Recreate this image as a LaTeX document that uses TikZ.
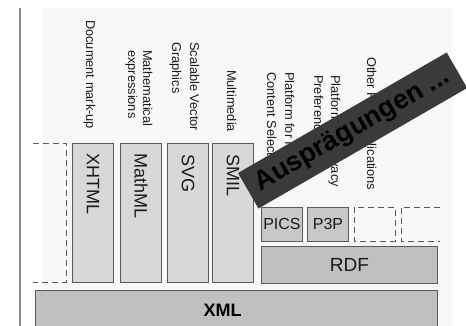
\documentclass[tikz,border=0pt]{standalone}
\usepackage{fontspec}
\setmainfont{Liberation Sans}
\definecolor{boxline}{HTML}{5A5A5A}
\definecolor{vfill}{HTML}{D8D8D8}
\definecolor{sfill}{HTML}{C8C8C8}
\definecolor{bfill}{HTML}{C0C0C0}
\definecolor{panel}{HTML}{F8F8F8}
\definecolor{lbl}{HTML}{1A1A1A}
\definecolor{banfill}{HTML}{3A3A3A}
\begin{document}
\begin{tikzpicture}[x=1pt,y=-1pt,
  vbox/.style={draw=boxline, fill=vfill, line width=0.9pt, anchor=north west, inner sep=0pt},
  sbox/.style={draw=boxline, fill=sfill, line width=0.9pt, anchor=north west, inner sep=0pt,
    font=\fontsize{16}{18}\selectfont, text=lbl},
  bbox/.style={draw=boxline, fill=bfill, line width=0.9pt, anchor=north west, inner sep=0pt},
  dbox/.style={draw=boxline, dashed, dash pattern=on 6pt off 4pt, line width=0.9pt},
  vtext/.style={rotate=-90, anchor=west, inner sep=0pt, font=\fontsize{18}{20}\selectfont, text=lbl},
  toplabel/.style={rotate=-90, anchor=base west, inner sep=0pt, font=\fontsize{12.8}{14}\selectfont, text=lbl},
  banner/.style={fill=banfill, rotate=30, minimum width=241pt, minimum height=41pt, inner sep=0pt,
    font=\fontsize{27}{30}\selectfont\bfseries, text=black}
]
\useasboundingbox (0,0) rectangle (466,326);
% faint panel and left rule
\fill[panel] (43,8) rectangle (452,330);
\draw[line width=2pt, color=gray!90] (20,8) -- (20,330);

% top labels
\node[toplabel] (ldoc) at (86,20) {Document mark-up};
\node[toplabel] (lmath1) at (143,50) {Mathematical};
\node[toplabel] (lmath2) at (128,50) {expressions};
\node[toplabel] (lsvg1) at (190,42) {Scalable Vector};
\node[toplabel] (lsvg2) at (172,42) {Graphics};
\node[toplabel] (lsmil) at (227,70) {Multimedia};
\node[toplabel] (lpics1) at (285,72) {Platform for Internet};
\node[toplabel] (lpics2) at (267,72) {Content Selection};
\node[toplabel] (lp3p1) at (331,75) {Platform for Privacy};
\node[toplabel] (lp3p2) at (314,75) {Preferences};
\node[toplabel] (lother) at (367,57) {Other RDF applications};

% left dashed placeholder (open on the left)
\draw[dbox] (33,143) -- (66,143) -- (66,282) -- (33,282);

% vertical boxes
\node[vbox, minimum width=41pt, minimum height=139pt] (xhtml) at (72,143) {};
\node[vbox, minimum width=41pt, minimum height=139pt] (mathml) at (120,143) {};
\node[vbox, minimum width=41pt, minimum height=139pt] (svg) at (167,143) {};
\node[vbox, minimum width=41pt, minimum height=139pt] (smil) at (212,143) {};
\node[vtext] (txhtml) at ([yshift=-10pt]xhtml.north) {XHTML};
\node[vtext] (tmathml) at ([yshift=-10pt]mathml.north) {MathML};
\node[vtext] (tsvg) at ([yshift=-11pt]svg.north) {SVG};
\node[vtext] (tsmil) at ([yshift=-11pt]smil.north) {SMIL};

% small boxes
\node[sbox, minimum width=41pt, minimum height=34pt] (pics) at (261,207) {PICS};
\node[sbox, minimum width=41pt, minimum height=34pt] (p3p) at (307,207) {P3P};
\draw[dbox] (354,207) rectangle (395,241);
\draw[dbox] (440,207) -- (401,207) -- (401,241) -- (440,241);

% RDF and XML
\node[bbox, minimum width=176pt, minimum height=37pt, font=\fontsize{19}{21}\selectfont, text=lbl] (rdf) at (261,246) {RDF};
\node[bbox, minimum width=402pt, minimum height=40pt] (xml) at (35,290) {};
\node[font=\fontsize{18}{20}\selectfont\bfseries, text=black, inner sep=0pt] (txml) at (222.5,310) {XML};

% banner
\node[banner] (ban) at (352.6,130.5) {\color{black}Ausprägungen ...};
\end{tikzpicture}
\end{document}
